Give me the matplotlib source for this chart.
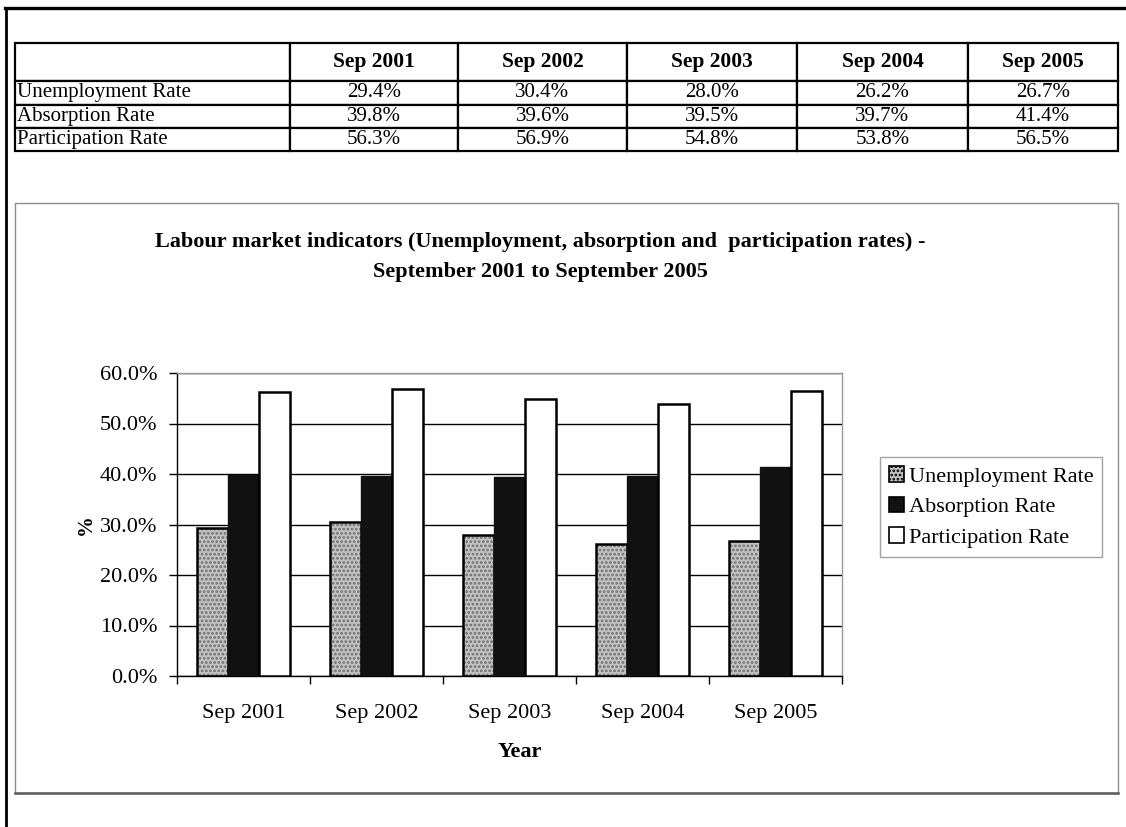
import matplotlib
matplotlib.use("Agg")
import matplotlib.pyplot as plt
import numpy as np
from matplotlib.lines import Line2D
from matplotlib.patches import Rectangle, Patch

# Labour market indicators, September 2001 - September 2005
periods = ["Sep 2001", "Sep 2002", "Sep 2003", "Sep 2004", "Sep 2005"]
unemployment = [29.4, 30.4, 28.0, 26.2, 26.7]
absorption = [39.8, 39.6, 39.5, 39.7, 41.4]
participation = [56.3, 56.9, 54.8, 53.8, 56.5]
series_names = ["Unemployment Rate", "Absorption Rate", "Participation Rate"]
y_ticks = [0, 10, 20, 30, 40, 50, 60]
title = ("Labour market indicators (Unemployment, absorption and  participation rates) -\n"
         "September 2001 to September 2005")

W, H = 1126, 827
plt.rcParams["font.family"] = ["Liberation Serif", "DejaVu Serif"]
plt.rcParams["hatch.linewidth"] = 1.3

fig = plt.figure(figsize=(W / 100, H / 100), dpi=100)
fig.patch.set_facecolor("white")


def px_rect(x0, y0, x1, y1):
    """Figure-fraction rectangle from pixel edges (y measured from the top)."""
    return [x0 / W, 1 - y1 / H, (x1 - x0) / W, (y1 - y0) / H]


def fx(x):
    return x / W


def fy(y):
    return 1 - y / H


# page frame
fig.add_artist(Line2D([fx(5), fx(W)], [fy(8), fy(8)], color="black", lw=2.4,
                      transform=fig.transFigure))
fig.add_artist(Line2D([fx(6), fx(6)], [fy(8), fy(H)], color="black", lw=2.0,
                      transform=fig.transFigure))

# ---- data table ----
tax = fig.add_axes(px_rect(15, 43, 1118, 151))
tax.axis("off")
cell_text = [[""] + periods]
for name, vals in zip(series_names, [unemployment, absorption, participation]):
    cell_text.append([name] + [f"{v:.1f}%" for v in vals])
col_w = [275, 168, 169, 170, 171, 150]
tbl = tax.table(cellText=cell_text, colWidths=[c / sum(col_w) for c in col_w],
                bbox=[0, 0, 1, 1], cellLoc="center")
tbl.auto_set_font_size(False)
row_h = [38, 23, 23, 23]
for (r, c), cell in tbl.get_celld().items():
    cell.set_height(row_h[r] / sum(row_h))
    cell.set_linewidth(1.6)
    cell.set_edgecolor("black")
    txt = cell.get_text()
    txt.set_fontsize(15)
    if r == 0:
        txt.set_fontweight("bold")
        txt.set_fontsize(15.5)
    if c == 0:
        cell.set_text_props(ha="left")
        cell.PAD = 0.008

# ---- chart frame ----
fig.add_artist(Rectangle((fx(15), fy(793)), fx(1118) - fx(15), fy(203) - fy(793),
                         transform=fig.transFigure, fill=False,
                         edgecolor="#8c8c8c", lw=1.0))
fig.add_artist(Line2D([fx(15), fx(1118)], [fy(793), fy(793)], color="#5a5a5a",
                      lw=1.8, transform=fig.transFigure))

fig.text(fx(540), fy(257), title, ha="center", va="center", fontsize=16,
         fontweight="bold", linespacing=1.6)

ax = fig.add_axes(px_rect(177, 373, 842, 676))
x = np.arange(len(periods))
bw = 0.235

# unemployment: stippled grey
ax.bar(x - bw, unemployment, bw, color="#c2c2c2", edgecolor="#6e6e6e",
       hatch="....", lw=0, zorder=2)
ax.bar(x - bw, unemployment, bw, fill=False, edgecolor="black", lw=1.8, zorder=3)
ax.bar(x, absorption, bw, color="#111111", edgecolor="#111111", lw=1.0, zorder=3)
ax.bar(x + bw, participation, bw, color="white", edgecolor="black", lw=1.8, zorder=3)

ax.set_xlim(-0.5, len(periods) - 0.5)
ax.set_ylim(0, 60)
ax.set_yticks(y_ticks)
ax.set_yticklabels([f"{t:.1f}%" for t in y_ticks], fontsize=16)
ax.set_xticks(x)
ax.set_xticklabels(periods, fontsize=16)
ax.set_xticks(np.arange(-0.5, len(periods)), minor=True)
ax.tick_params(axis="x", which="major", length=0, pad=20)
ax.tick_params(axis="x", which="minor", length=6, width=1, direction="out")
ax.tick_params(axis="y", length=6, width=1, direction="out", pad=8)
ax.yaxis.grid(True, color="black", lw=1.0, zorder=1)
ax.set_axisbelow(True)
for side in ("left", "bottom"):
    ax.spines[side].set_color("black")
    ax.spines[side].set_linewidth(1.0)
for side in ("top", "right"):
    ax.spines[side].set_color("#9a9a9a")
    ax.spines[side].set_linewidth(1.0)
    ax.spines[side].set_linestyle((0, (1, 1)))

fig.text(fx(86), fy(525), "%", rotation=90, ha="center", va="center",
         fontsize=15, fontweight="bold")
fig.text(fx(520), fy(752), "Year", ha="center", va="center",
         fontsize=16, fontweight="bold")

handles = [
    Patch(facecolor="#c2c2c2", edgecolor="black", hatch="....", lw=1.2),
    Patch(facecolor="#111111", edgecolor="black", lw=1.2),
    Patch(facecolor="white", edgecolor="black", lw=1.2),
]
leg = fig.legend(handles, series_names, loc="center left",
                 bbox_to_anchor=(fx(880), fy(507)), fontsize=16,
                 frameon=True, fancybox=False, edgecolor="#8c8c8c",
                 handlelength=0.7, handleheight=0.7, handletextpad=0.2,
                 labelspacing=0.45, borderpad=0.4, borderaxespad=0)
leg.get_frame().set_linewidth(1.0)

fig.savefig("out.png", dpi=100)
